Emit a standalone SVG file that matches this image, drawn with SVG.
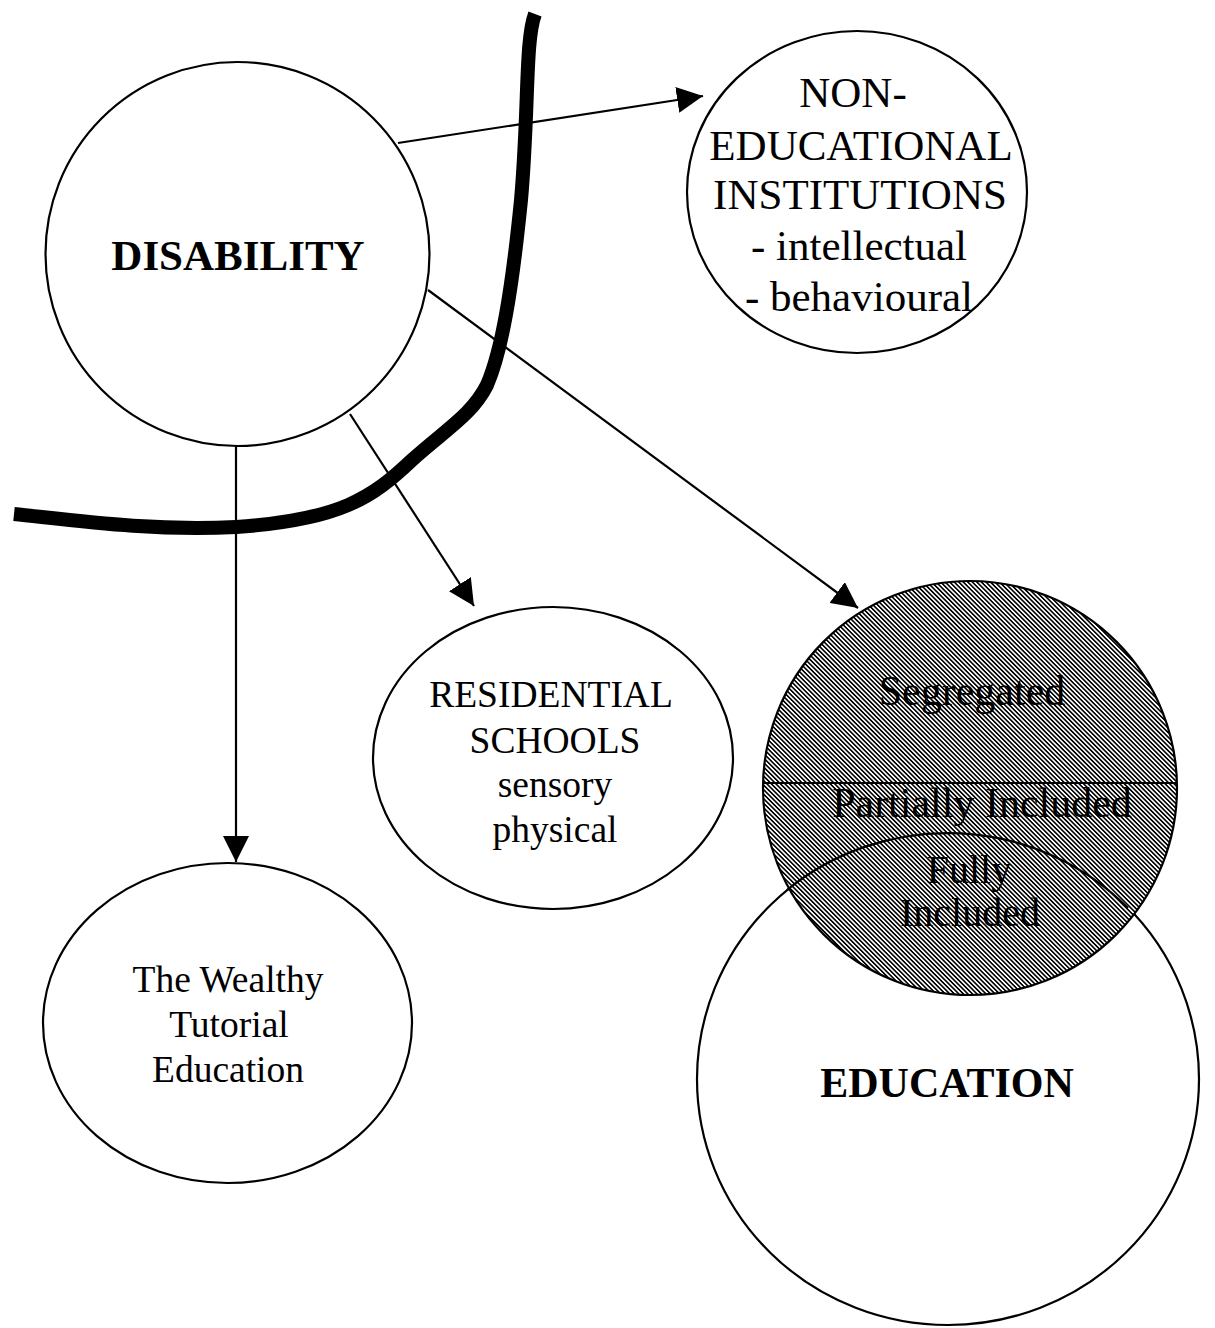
<svg xmlns="http://www.w3.org/2000/svg" width="1215" height="1328" viewBox="0 0 1215 1328">
<style>
.node{fill:#fff;stroke:#000;stroke-width:2.2}
.t{font-family:"Liberation Serif",serif;fill:#000;text-anchor:middle}
.b{font-weight:bold}
.con line{stroke:#000;stroke-width:2.2}
</style>
<defs>
<marker id="ahl" viewBox="0 0 10 10" refX="10" refY="5" markerWidth="26" markerHeight="26" markerUnits="userSpaceOnUse" orient="auto">
<path d="M0,0 L10,5 L0,10 z" fill="#000"/>
</marker>
<pattern id="hatch" width="3.2" height="3.2" patternUnits="userSpaceOnUse" patternTransform="rotate(-45)">
<rect width="3.2" height="3.2" fill="#fff"/>
<line x1="0.8" y1="0" x2="0.8" y2="3.2" stroke="#000" stroke-width="1.6"/>
</pattern>
</defs>
<rect width="1215" height="1328" fill="#fff"/>

<g id="education">
<ellipse class="node" cx="948" cy="1079" rx="251" ry="246"/>
<text class="t b" x="947" y="1097" font-size="42">EDUCATION</text>
</g>

<g id="inclusion">
<circle cx="970" cy="788" r="207" fill="url(#hatch)" stroke="#000" stroke-width="2.2"/>
<line x1="763" y1="783" x2="1177" y2="783" stroke="#000" stroke-width="2.2"/>
<path d="M 787 890 A 251 246 0 0 1 1128 908" fill="none" stroke="#000" stroke-width="2.2"/>
<text class="t" x="972" y="705" font-size="42">Segregated</text>
<text class="t" x="982" y="817" font-size="42">Partially Included</text>
<text class="t" x="969" y="883" font-size="40">Fully</text>
<text class="t" x="970" y="926" font-size="40">Included</text>
</g>

<g id="disability">
<circle class="node" cx="237.5" cy="254" r="192"/>
<text class="t b" x="238" y="270" font-size="43">DISABILITY</text>
</g>

<g id="noneducational">
<ellipse class="node" cx="857" cy="192" rx="170" ry="161"/>
<text class="t" x="853" y="107" font-size="43">NON-</text>
<text class="t" x="861" y="160" font-size="43">EDUCATIONAL</text>
<text class="t" x="860" y="209" font-size="43">INSTITUTIONS</text>
<text class="t" x="859" y="260" font-size="43">- intellectual</text>
<text class="t" x="859" y="311" font-size="43">- behavioural</text>
</g>

<g id="residential">
<ellipse class="node" cx="553" cy="758" rx="180" ry="151"/>
<text class="t" x="551" y="707" font-size="37.5">RESIDENTIAL</text>
<text class="t" x="555" y="753" font-size="37.5">SCHOOLS</text>
<text class="t" x="555" y="797" font-size="37.5">sensory</text>
<text class="t" x="555" y="842" font-size="37.5">physical</text>
</g>

<g id="wealthy">
<ellipse class="node" cx="227.5" cy="1023" rx="184.5" ry="160"/>
<text class="t" x="228" y="992" font-size="37.5">The Wealthy</text>
<text class="t" x="229" y="1037" font-size="37.5">Tutorial</text>
<text class="t" x="228" y="1082" font-size="37.5">Education</text>
</g>

<g id="connectors" class="con">
<line x1="398" y1="143" x2="703" y2="96" marker-end="url(#ahl)"/>
<line x1="428" y1="290" x2="858" y2="608" marker-end="url(#ahl)"/>
<line x1="350" y1="414" x2="474" y2="606" marker-end="url(#ahl)"/>
<line x1="236" y1="446" x2="236" y2="862" marker-end="url(#ahl)"/>
</g>

<g id="boundary">
<path d="M 535 14 C 525 40, 529 110, 521 200 C 512 290, 502 350, 487 385 C 472 415, 445 430, 412 460 C 372 498, 340 520, 236 527 C 150 531, 80 521, 14 514" fill="none" stroke="#000" stroke-width="14" stroke-linecap="butt"/>
</g>
</svg>
